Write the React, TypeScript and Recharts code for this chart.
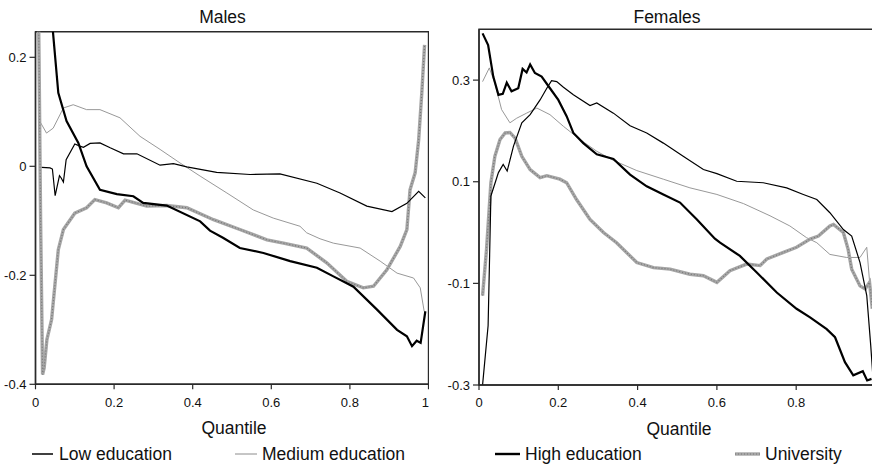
import React from "react";
import { LineChart, Line, XAxis, YAxis, ReferenceArea } from "recharts";

type Pt = [number, number];

// Males
const malesLow: Pt[] = [[0.016, -0.002], [0.037, -0.003], [0.043, -0.005], [0.05, -0.054], [0.061, -0.017], [0.065, -0.021], [0.071, -0.029], [0.078, 0.012], [0.1, 0.041], [0.113, 0.037], [0.122, 0.035], [0.139, 0.042], [0.164, 0.043], [0.19, 0.034], [0.224, 0.023], [0.258, 0.023], [0.317, 0.002], [0.351, 0.005], [0.385, -0.001], [0.461, -0.011], [0.546, -0.015], [0.622, -0.014], [0.716, -0.031], [0.775, -0.049], [0.843, -0.073], [0.907, -0.083], [0.945, -0.068], [0.975, -0.046], [0.992, -0.058]];
const malesMedium: Pt[] = [[0.013, 0.08], [0.028, 0.061], [0.045, 0.07], [0.071, 0.107], [0.096, 0.113], [0.13, 0.104], [0.164, 0.104], [0.215, 0.089], [0.266, 0.055], [0.317, 0.031], [0.368, 0.006], [0.419, -0.018], [0.487, -0.049], [0.554, -0.08], [0.605, -0.095], [0.673, -0.11], [0.69, -0.122], [0.724, -0.133], [0.758, -0.141], [0.826, -0.15], [0.877, -0.174], [0.92, -0.196], [0.962, -0.205], [0.979, -0.223], [0.989, -0.266]];
const malesHigh: Pt[] = [[0.01, 0.9], [0.03, 0.45], [0.044, 0.25], [0.058, 0.135], [0.079, 0.083], [0.109, 0.043], [0.13, 0], [0.164, -0.043], [0.207, -0.051], [0.249, -0.055], [0.274, -0.067], [0.334, -0.072], [0.419, -0.101], [0.444, -0.118], [0.477, -0.131], [0.52, -0.15], [0.58, -0.159], [0.648, -0.174], [0.716, -0.186], [0.758, -0.202], [0.809, -0.221], [0.869, -0.263], [0.92, -0.3], [0.945, -0.312], [0.958, -0.33], [0.97, -0.32], [0.98, -0.324], [0.992, -0.266]];
const malesUni: Pt[] = [[0.004, 0.5], [0.009, 0.2], [0.013, -0.1], [0.018, -0.382], [0.022, -0.37], [0.029, -0.318], [0.041, -0.281], [0.058, -0.153], [0.071, -0.116], [0.1, -0.086], [0.13, -0.076], [0.151, -0.061], [0.181, -0.067], [0.211, -0.076], [0.228, -0.062], [0.283, -0.073], [0.334, -0.072], [0.385, -0.076], [0.453, -0.098], [0.52, -0.116], [0.589, -0.135], [0.631, -0.141], [0.69, -0.15], [0.741, -0.177], [0.792, -0.211], [0.834, -0.223], [0.86, -0.22], [0.894, -0.19], [0.928, -0.147], [0.945, -0.116], [0.953, -0.043], [0.966, -0.012], [0.975, 0.049], [0.983, 0.135], [0.99, 0.223]];

// Females
const femLow: Pt[] = [[0.009, -0.3], [0.023, -0.183], [0.03, 0.072], [0.049, 0.118], [0.061, 0.134], [0.071, 0.121], [0.087, 0.17], [0.108, 0.216], [0.129, 0.232], [0.154, 0.261], [0.171, 0.284], [0.183, 0.299], [0.196, 0.297], [0.213, 0.286], [0.238, 0.271], [0.28, 0.25], [0.297, 0.255], [0.339, 0.235], [0.381, 0.21], [0.423, 0.196], [0.465, 0.176], [0.515, 0.15], [0.566, 0.124], [0.6, 0.116], [0.65, 0.101], [0.717, 0.098], [0.776, 0.088], [0.818, 0.075], [0.852, 0.065], [0.885, 0.039], [0.919, 0.006], [0.94, -0.007], [0.961, -0.059], [0.978, -0.124], [0.988, -0.222], [0.995, -0.3]];
const femMedium: Pt[] = [[0.009, 0.297], [0.026, 0.324], [0.04, 0.294], [0.057, 0.242], [0.078, 0.216], [0.095, 0.225], [0.12, 0.235], [0.146, 0.245], [0.179, 0.232], [0.213, 0.209], [0.255, 0.183], [0.297, 0.16], [0.339, 0.142], [0.398, 0.122], [0.465, 0.105], [0.532, 0.088], [0.6, 0.075], [0.667, 0.057], [0.734, 0.033], [0.784, 0.013], [0.826, -0.01], [0.852, -0.02], [0.885, -0.043], [0.927, -0.049], [0.961, -0.049], [0.978, -0.029], [0.988, -0.124]];
const femHigh: Pt[] = [[0.009, 0.392], [0.023, 0.369], [0.036, 0.307], [0.049, 0.271], [0.06, 0.273], [0.07, 0.295], [0.082, 0.278], [0.099, 0.284], [0.11, 0.322], [0.12, 0.315], [0.129, 0.331], [0.141, 0.314], [0.158, 0.307], [0.179, 0.284], [0.2, 0.261], [0.221, 0.229], [0.238, 0.196], [0.263, 0.176], [0.297, 0.154], [0.339, 0.145], [0.381, 0.114], [0.423, 0.091], [0.465, 0.075], [0.507, 0.059], [0.549, 0.026], [0.595, -0.012], [0.608, -0.02], [0.658, -0.046], [0.7, -0.078], [0.751, -0.118], [0.801, -0.15], [0.835, -0.167], [0.877, -0.19], [0.898, -0.206], [0.923, -0.255], [0.944, -0.281], [0.968, -0.273], [0.979, -0.291], [0.99, -0.288]];
const femUni: Pt[] = [[0.009, -0.124], [0.019, -0.033], [0.03, 0.098], [0.04, 0.15], [0.053, 0.183], [0.066, 0.196], [0.078, 0.197], [0.091, 0.186], [0.108, 0.15], [0.129, 0.124], [0.154, 0.108], [0.171, 0.112], [0.204, 0.105], [0.221, 0.098], [0.246, 0.065], [0.28, 0.026], [0.314, 0], [0.347, -0.02], [0.398, -0.059], [0.44, -0.069], [0.482, -0.072], [0.532, -0.082], [0.566, -0.085], [0.6, -0.098], [0.633, -0.075], [0.675, -0.062], [0.709, -0.065], [0.726, -0.052], [0.768, -0.039], [0.801, -0.029], [0.835, -0.013], [0.856, -0.007], [0.885, 0.013], [0.894, 0.016], [0.919, 0], [0.931, -0.033], [0.94, -0.072], [0.961, -0.105], [0.974, -0.111], [0.985, -0.098], [0.992, -0.15]];

const maleXTicks = [0, 0.2, 0.4, 0.6, 0.8, 1];
const femXTicks = [0, 0.2, 0.4, 0.6, 0.8];
const maleYTicks = [-0.4, -0.2, 0, 0.2];
const femYTicks = [-0.3, -0.1, 0.1, 0.3];

const rows = (pts: Pt[]) => pts.map(([q, v]) => ({ q, v }));

const FONT = '"Liberation Sans", Arial, sans-serif';
const AX = "#2a2a2a";
const tick = { fontSize: 13, fill: "#111", fontFamily: FONT };

interface PanelProps {
  low: Pt[];
  medium: Pt[];
  high: Pt[];
  uni: Pt[];
  xMax: number;
  xTicks: number[];
  yDomain: [number, number];
  yTicks: number[];
  width: number;
  top: number;
  yAxisWidth: number;
  xAxisHeight: number;
}

const Panel: React.FC<PanelProps> = (p) => (
  <LineChart width={p.width} height={420} margin={{ top: p.top, right: 0, left: 0, bottom: 0 }}>
    <XAxis type="number" dataKey="q" domain={[0, p.xMax]} ticks={p.xTicks} allowDataOverflow
      height={p.xAxisHeight} tick={tick} tickSize={5} tickMargin={8}
      axisLine={{ stroke: AX, strokeWidth: 1.4 }} tickLine={{ stroke: AX, strokeWidth: 1.2 }} />
    <YAxis type="number" domain={p.yDomain} ticks={p.yTicks} allowDataOverflow width={p.yAxisWidth}
      tick={tick} tickSize={6} tickMargin={3}
      axisLine={{ stroke: AX, strokeWidth: 1.4 }} tickLine={{ stroke: AX, strokeWidth: 1.2 }} />
    <ReferenceArea x1={0} x2={p.xMax} y1={p.yDomain[0]} y2={p.yDomain[1]} fill="none" stroke={AX} strokeWidth={1.4} ifOverflow="visible" />
    <Line data={rows(p.medium)} dataKey="v" type="linear" stroke="#8c8c8c" strokeWidth={0.9} dot={false} isAnimationActive={false} />
    <Line data={rows(p.uni)} dataKey="v" type="linear" stroke="#a6a6a6" strokeWidth={3.4} dot={false} isAnimationActive={false} />
    <Line data={rows(p.uni)} dataKey="v" type="linear" stroke="#777" strokeWidth={1.2} strokeDasharray="1 2" dot={false} isAnimationActive={false} />
    <Line data={rows(p.low)} dataKey="v" type="linear" stroke="#000" strokeWidth={1.2} dot={false} isAnimationActive={false} />
    <Line data={rows(p.high)} dataKey="v" type="linear" stroke="#000" strokeWidth={2.2} dot={false} isAnimationActive={false} />
  </LineChart>
);

export default function App() {
  return (
    <div style={{ position: "absolute", left: 0, top: 0, width: 872, height: 468, overflow: "hidden", background: "#fff", fontFamily: FONT }}>
      <div style={{ position: "absolute", left: 0, top: 0 }}>
        <Panel low={malesLow} medium={malesMedium} high={malesHigh} uni={malesUni}
          xMax={1} xTicks={maleXTicks} yDomain={[-0.4, 0.247]} yTicks={maleYTicks}
          width={428.5} top={31.7} yAxisWidth={35.5} xAxisHeight={35.7} />
      </div>
      <div style={{ position: "absolute", left: 440, top: 0 }}>
        <Panel low={femLow} medium={femMedium} high={femHigh} uni={femUni}
          xMax={0.995} xTicks={femXTicks} yDomain={[-0.3, 0.4]} yTicks={femYTicks}
          width={433.5} top={29.3} yAxisWidth={39} xAxisHeight={35} />
      </div>
      <svg width={872} height={468} style={{ position: "absolute", left: 0, top: 0, pointerEvents: "none" }} fontFamily={FONT} fontSize={17.5} fill="#111">
        <text x={222.5} y={22.7} textAnchor="middle">Males</text>
        <text x={667} y={22.7} textAnchor="middle">Females</text>
        <text x={234} y={434} textAnchor="middle">Quantile</text>
        <text x={679} y={435} textAnchor="middle">Quantile</text>
        <line x1={32} x2={53} y1={454} y2={454} stroke="#000" strokeWidth={1.5} />
        <text x={59} y={460}>Low education</text>
        <line x1={235} x2={257} y1={454} y2={454} stroke="#8c8c8c" strokeWidth={1} />
        <text x={262} y={460}>Medium education</text>
        <line x1={495} x2={520} y1={454} y2={454} stroke="#000" strokeWidth={2.4} />
        <text x={525} y={460}>High education</text>
        <line x1={735} x2={760} y1={454} y2={454} stroke="#a6a6a6" strokeWidth={3.4} />
        <line x1={735} x2={760} y1={454} y2={454} stroke="#777" strokeWidth={1.2} strokeDasharray="1 2" />
        <text x={765} y={460}>University</text>
      </svg>
    </div>
  );
}
